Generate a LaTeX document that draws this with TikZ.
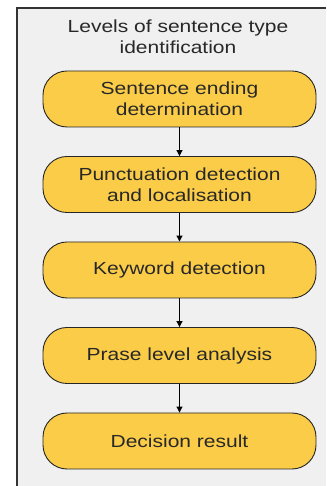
\documentclass[tikz,border=0pt]{standalone}
\usepackage{fontspec}
\setmainfont{Liberation Sans}[FakeStretch=1.2]
\usepackage{xcolor}
\usepackage{tikz}
\usetikzlibrary{arrows.meta}
\usetikzlibrary{positioning}
\definecolor{boxyellow}{RGB}{250,204,72}
\definecolor{panelgray}{RGB}{240,240,240}
\definecolor{textgray}{RGB}{40,40,40}
\begin{document}
\begin{tikzpicture}[x=1pt,y=1pt,>= {Triangle[length=6pt,width=6pt]}, node distance = 85.5pt,on grid,
  level/.style ={rectangle,rounded corners=24pt,draw=black!85,line width=0.9pt,fill=boxyellow,text=textgray,
    minimum width=273pt,minimum height=56pt,align=center,font=\fontsize{17.5}{21}\selectfont}]
\useasboundingbox (0,0) rectangle (326,486);
% panel
\fill[panelgray] (16.5,0) rectangle (326,478);
\draw[line width=2pt,black!80] (16.5,0) -- (16.5,478) -- (326,478);
\node[text=textgray,align=center,font=\fontsize{17.5}{21.5}\selectfont] (title) at (178,449) {Levels of sentence type\\identification};
% levels
\node[level] (end) at (179.5,387) {Sentence ending\\determination};
\node[level, below = of end] (punct) {Punctuation detection\\and localisation};
\node[level, below = of punct] (key) {Keyword detection};
\node[level, below = of key] (phrase) {Prase level analysis};
\node[level, below = of phrase] (dec) {Decision result};
\draw[->,line width=1pt] (end) -- (punct);
\draw[->,line width=1pt] (punct) -- (key);
\draw[->,line width=1pt] (key) -- (phrase);
\draw[->,line width=1pt] (phrase) -- (dec);
\end{tikzpicture}
\end{document}
